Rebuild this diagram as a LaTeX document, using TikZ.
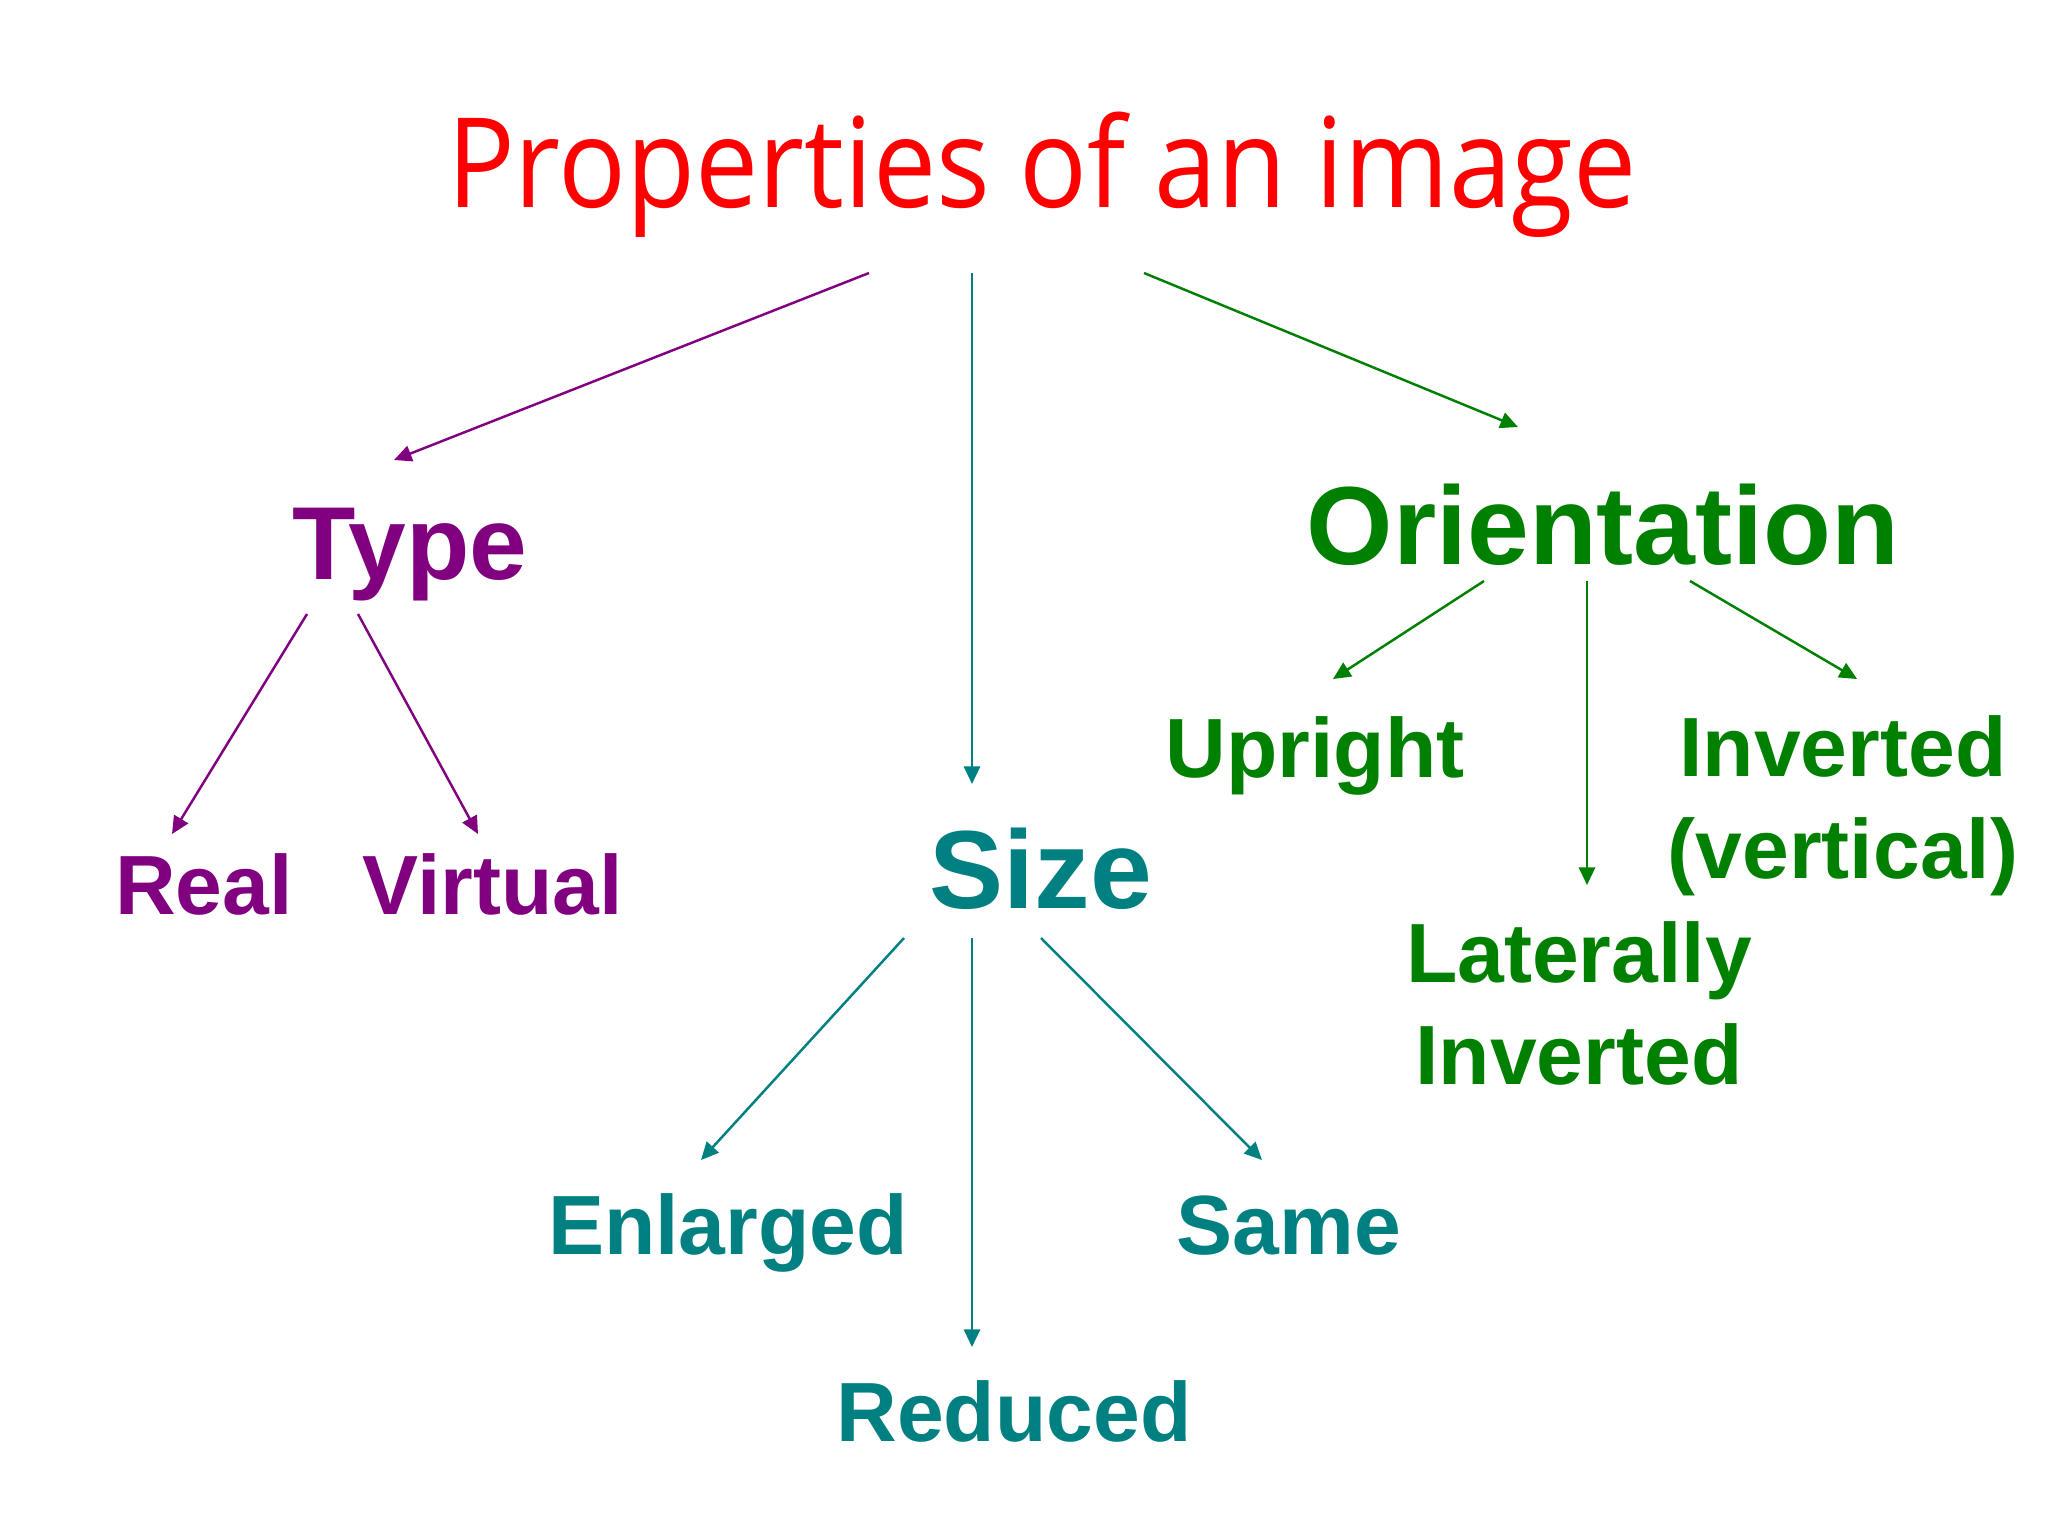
\documentclass[tikz,border=0pt]{standalone}
\usepackage{fontspec}
\setmainfont{Liberation Sans}
\newfontfamily\titlefont{Open Sans}
\usetikzlibrary{arrows.meta}
\definecolor{cpurple}{HTML}{800080}
\definecolor{cteal}{HTML}{008080}
\definecolor{cgreen}{HTML}{008000}
\definecolor{cred}{HTML}{FF0000}
\tikzset{
  lbl/.style={anchor=base, inner sep=0pt, font=\bfseries\fontsize{23.9}{28.8}\selectfont, align=center},
  head/.style={anchor=base, inner sep=0pt, font=\bfseries\fontsize{31.6}{36}\selectfont},
  conn/.style={line width=0.7pt, -{Triangle[length=5pt,width=4.6pt]}},
  pconn/.style={conn, draw=cpurple, fill=cpurple},
  tconn/.style={conn, draw=cteal, fill=cteal},
  gconn/.style={conn, draw=cgreen, fill=cgreen},
}
\begin{document}
\begin{tikzpicture}[x=0.01cm, y=-0.01cm]
\useasboundingbox[fill=white] (0,0) rectangle (2048,1536);
% title
\node[anchor=base, inner sep=0pt, text=cred] (title) at (1042,207)
  {\resizebox{11.89cm}{\height}{\titlefont\fontsize{35.5}{40}\selectfont Properties of an image}};
% level 1
\node[head, text=cpurple, font=\bfseries\fontsize{29.5}{34}\selectfont] (type) at (410,579) {Type};
\node[head, text=cteal] (size) at (1041,908) {Size};
\node[head, text=cgreen] (orient) at (1603,564) {Orientation};
% type children
\node[lbl, text=cpurple] (real) at (204,914) {Real};
\node[lbl, text=cpurple] (virtual) at (493,914) {Virtual};
% orientation children (base = baseline of last line)
\node[lbl, text=cgreen] (upright) at (1315,777) {Upright};
\node[lbl, text=cgreen] (inverted) at (1843,878) {Inverted\\(vertical)};
\node[lbl, text=cgreen] (lateral) at (1579,1084) {Laterally\\Inverted};
% size children
\node[lbl, text=cteal] (enlarged) at (728,1254) {Enlarged};
\node[lbl, text=cteal] (same) at (1289,1254) {Same};
\node[lbl, text=cteal] (reduced) at (1014,1441) {Reduced};
% connectors
\draw[pconn] ([shift={(-173,66)}]title.base) -- ([shift={(-16,-119)}]type.base);
\draw[tconn] ([shift={(-70,66)}]title.base) -- ([shift={(-69,-124)}]size.base);
\draw[gconn] ([shift={(102,66)}]title.base) -- ([shift={(-85,-137)}]orient.base);
\draw[pconn] ([shift={(-103,35)}]type.base) -- ([shift={(-32,-80)}]real.base);
\draw[pconn] ([shift={(-52,35)}]type.base) -- ([shift={(-15,-80)}]virtual.base);
\draw[gconn] ([shift={(-119,17)}]orient.base) -- ([shift={(18,-98)}]upright.base);
\draw[gconn] ([shift={(-16,17)}]orient.base) -- ([shift={(8,-199)}]lateral.base);
\draw[gconn] ([shift={(87,17)}]orient.base) -- ([shift={(14,-199)}]inverted.base);
\draw[tconn] ([shift={(-137,30)}]size.base) -- ([shift={(-27,-94)}]enlarged.base);
\draw[tconn] ([shift={(-69,30)}]size.base) -- ([shift={(-42,-94)}]reduced.base);
\draw[tconn] ([shift={(0,30)}]size.base) -- ([shift={(-27,-94)}]same.base);
\end{tikzpicture}
\end{document}
